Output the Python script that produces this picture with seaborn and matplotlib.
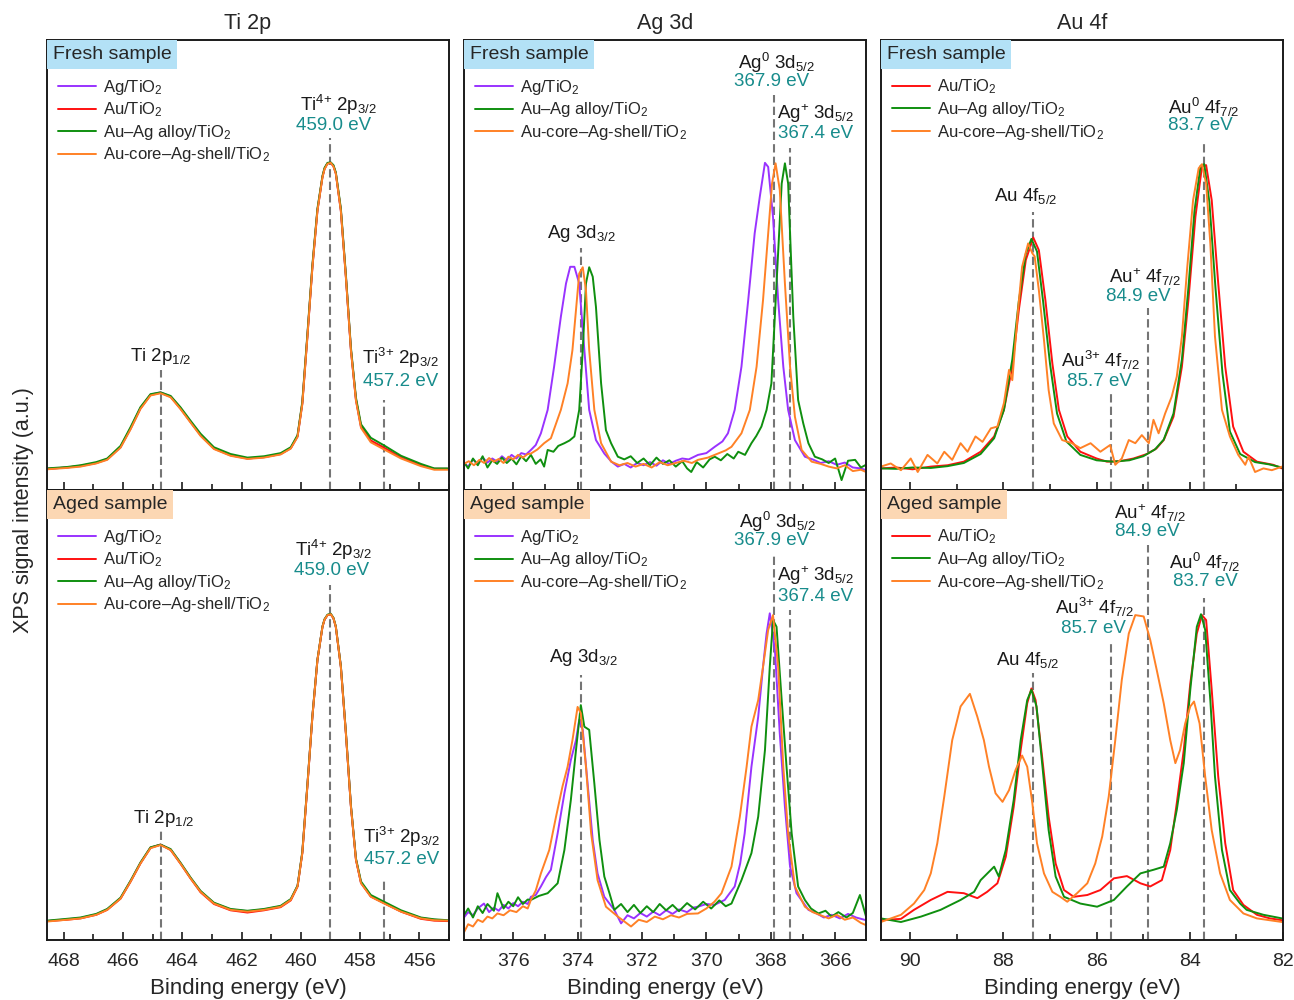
import numpy as np
import pandas as pd
import seaborn as sns
import matplotlib.pyplot as plt
from matplotlib.ticker import MultipleLocator

sns.set_theme(style='ticks')
plt.rcParams['font.family'] = ['Liberation Sans', 'DejaVu Sans']
plt.rcParams['mathtext.fontset'] = 'custom'
plt.rcParams['mathtext.rm'] = 'Liberation Sans'
plt.rcParams['mathtext.it'] = 'Liberation Sans:italic'
plt.rcParams['mathtext.bf'] = 'Liberation Sans:bold'

# ---- data (normalised intensity) ----
ti_energy = [468.56, 467.9, 467.43, 466.9, 466.53, 466.08, 465.74, 465.41, 465.07, 464.73,
             464.39, 464.06, 463.72, 463.38, 462.93, 462.37, 461.8, 461.24, 460.68, 460.34,
             460.11, 459.95, 459.78, 459.61, 459.44, 459.27, 459.2, 459.1, 458.99, 458.9, 458.82, 458.65,
             458.48, 458.31, 458.14, 457.97, 457.64, 457.19, 456.62, 455.95, 455.5, 455.05]

ti_fresh_ag = [0.047, 0.05, 0.053, 0.06, 0.068, 0.095, 0.137, 0.182, 0.212, 0.217, 0.208, 0.182, 0.152, 0.122,
               0.093, 0.078, 0.07, 0.073, 0.08, 0.093, 0.119, 0.192, 0.34, 0.495, 0.621, 0.696, 0.714, 0.726,
               0.727, 0.72, 0.704, 0.621, 0.474, 0.311, 0.2, 0.14, 0.109, 0.093, 0.072, 0.055, 0.047, 0.047]
ti_fresh_au = [0.047, 0.05, 0.054, 0.06, 0.069, 0.096, 0.137, 0.181, 0.211, 0.216, 0.207, 0.181, 0.151, 0.122,
               0.092, 0.077, 0.07, 0.073, 0.08, 0.093, 0.12, 0.193, 0.341, 0.496, 0.622, 0.696, 0.714, 0.726,
               0.727, 0.72, 0.704, 0.622, 0.474, 0.312, 0.201, 0.142, 0.11, 0.094, 0.072, 0.055, 0.047, 0.047]
ti_fresh_alloy = [0.048, 0.051, 0.055, 0.062, 0.07, 0.098, 0.14, 0.184, 0.213, 0.217, 0.209, 0.184, 0.154, 0.125,
                  0.095, 0.08, 0.072, 0.075, 0.082, 0.095, 0.122, 0.196, 0.345, 0.5, 0.625, 0.698, 0.716, 0.727,
                  0.728, 0.722, 0.706, 0.626, 0.478, 0.316, 0.205, 0.146, 0.116, 0.099, 0.076, 0.058, 0.048, 0.048]
ti_fresh_cs = [0.046, 0.049, 0.052, 0.059, 0.067, 0.094, 0.135, 0.18, 0.21, 0.215, 0.206, 0.18, 0.15, 0.12,
               0.091, 0.076, 0.069, 0.072, 0.079, 0.092, 0.118, 0.19, 0.338, 0.494, 0.62, 0.695, 0.713, 0.725,
               0.727, 0.719, 0.703, 0.62, 0.472, 0.31, 0.198, 0.138, 0.106, 0.09, 0.07, 0.053, 0.045, 0.045]

ti_aged_ag = [0.042, 0.046, 0.049, 0.057, 0.068, 0.093, 0.131, 0.171, 0.205, 0.212, 0.201, 0.171, 0.138, 0.108,
              0.082, 0.068, 0.064, 0.068, 0.075, 0.09, 0.12, 0.194, 0.342, 0.497, 0.622, 0.696, 0.712, 0.722,
              0.724, 0.715, 0.696, 0.608, 0.46, 0.297, 0.179, 0.127, 0.097, 0.082, 0.064, 0.049, 0.045, 0.043]
ti_aged_au = [0.042, 0.045, 0.048, 0.056, 0.067, 0.092, 0.13, 0.17, 0.205, 0.212, 0.2, 0.17, 0.137, 0.106,
              0.08, 0.066, 0.061, 0.066, 0.073, 0.088, 0.119, 0.193, 0.341, 0.496, 0.622, 0.696, 0.712, 0.722,
              0.724, 0.715, 0.696, 0.607, 0.459, 0.296, 0.178, 0.127, 0.097, 0.082, 0.063, 0.047, 0.043, 0.042]
ti_aged_alloy = [0.043, 0.047, 0.05, 0.058, 0.069, 0.094, 0.132, 0.172, 0.206, 0.212, 0.202, 0.172, 0.139, 0.109,
                 0.083, 0.069, 0.065, 0.069, 0.076, 0.091, 0.121, 0.196, 0.344, 0.498, 0.623, 0.697, 0.713, 0.723,
                 0.725, 0.716, 0.697, 0.609, 0.462, 0.299, 0.181, 0.13, 0.1, 0.085, 0.066, 0.05, 0.046, 0.044]
ti_aged_cs = [0.041, 0.045, 0.048, 0.056, 0.067, 0.092, 0.13, 0.17, 0.204, 0.211, 0.2, 0.17, 0.137, 0.107,
              0.081, 0.067, 0.063, 0.067, 0.074, 0.089, 0.119, 0.193, 0.341, 0.496, 0.622, 0.696, 0.712, 0.722,
              0.724, 0.715, 0.696, 0.607, 0.459, 0.296, 0.178, 0.126, 0.096, 0.081, 0.063, 0.048, 0.044, 0.043]

# Ag 3d, fresh: (energy, intensity)
ag_fresh_ag = [(377.53, 0.06), (377.4, 0.052), (377.25, 0.068), (377.1, 0.058), (376.95, 0.072), (376.8, 0.061),
               (376.65, 0.07), (376.5, 0.063), (376.35, 0.075), (376.2, 0.066), (376.05, 0.078), (375.9, 0.07),
               (375.75, 0.082), (375.6, 0.079), (375.45, 0.089), (375.3, 0.1), (375.14, 0.126), (374.93, 0.178),
               (374.73, 0.274), (374.52, 0.385), (374.36, 0.459), (374.23, 0.496), (374.1, 0.496), (373.95, 0.459),
               (373.79, 0.311), (373.64, 0.178), (373.43, 0.111), (373.17, 0.081), (372.95, 0.063), (372.75, 0.052),
               (372.55, 0.058), (372.35, 0.05), (372.15, 0.06), (371.95, 0.055), (371.75, 0.062), (371.55, 0.054),
               (371.35, 0.066), (371.15, 0.058), (370.95, 0.065), (370.75, 0.07), (370.55, 0.068), (370.26, 0.078),
               (370.0, 0.082), (369.74, 0.096), (369.5, 0.108), (369.33, 0.126), (369.12, 0.178), (368.91, 0.274),
               (368.7, 0.422), (368.5, 0.57), (368.34, 0.652), (368.18, 0.727), (368.08, 0.718), (367.93, 0.607),
               (367.77, 0.422), (367.61, 0.274), (367.46, 0.178), (367.25, 0.111), (366.94, 0.074), (366.7, 0.068),
               (366.45, 0.06), (366.2, 0.064), (365.95, 0.056), (365.7, 0.061), (365.45, 0.05), (365.2, 0.048),
               (365.04, 0.044)]
ag_fresh_alloy = [(377.53, 0.062), (377.4, 0.048), (377.25, 0.07), (377.1, 0.055), (376.95, 0.075), (376.8, 0.05),
                  (376.65, 0.066), (376.5, 0.058), (376.35, 0.072), (376.2, 0.06), (376.05, 0.07), (375.9, 0.057),
                  (375.75, 0.075), (375.6, 0.064), (375.45, 0.078), (375.3, 0.058), (375.15, 0.068), (375.04, 0.052),
                  (374.93, 0.089), (374.75, 0.085), (374.6, 0.098), (374.41, 0.104), (374.25, 0.11), (374.1, 0.119),
                  (373.95, 0.178), (373.84, 0.311), (373.74, 0.459), (373.64, 0.495), (373.53, 0.474), (373.43, 0.407),
                  (373.27, 0.237), (373.12, 0.133), (372.96, 0.104), (372.75, 0.074), (372.55, 0.068), (372.35, 0.075),
                  (372.15, 0.06), (371.95, 0.07), (371.75, 0.055), (371.55, 0.072), (371.35, 0.058), (371.15, 0.066),
                  (370.95, 0.052), (370.75, 0.064), (370.6, 0.048), (370.47, 0.04), (370.3, 0.062), (370.1, 0.05),
                  (369.9, 0.068), (369.74, 0.074), (369.55, 0.066), (369.35, 0.08), (369.15, 0.07), (369.01, 0.085),
                  (368.8, 0.078), (368.6, 0.104), (368.45, 0.12), (368.29, 0.141), (368.13, 0.178), (367.98, 0.237),
                  (367.82, 0.459), (367.66, 0.681), (367.56, 0.726), (367.46, 0.681), (367.3, 0.385), (367.15, 0.2),
                  (366.99, 0.148), (366.83, 0.104), (366.63, 0.074), (366.4, 0.068), (366.2, 0.06), (366.0, 0.07),
                  (365.8, 0.022), (365.6, 0.065), (365.38, 0.067), (365.2, 0.05), (365.04, 0.056)]
ag_fresh_cs = [(377.53, 0.058), (377.38, 0.064), (377.22, 0.055), (377.05, 0.067), (376.9, 0.06), (376.75, 0.071),
               (376.6, 0.063), (376.45, 0.069), (376.3, 0.06), (376.15, 0.074), (376.0, 0.068), (375.85, 0.078),
               (375.7, 0.072), (375.55, 0.08), (375.45, 0.081), (375.25, 0.09), (375.04, 0.104), (374.83, 0.115),
               (374.52, 0.178), (374.31, 0.237), (374.16, 0.311), (374.05, 0.4), (373.95, 0.481), (373.84, 0.495),
               (373.74, 0.444), (373.64, 0.311), (373.48, 0.178), (373.27, 0.104), (372.96, 0.063), (372.7, 0.055),
               (372.45, 0.06), (372.2, 0.052), (371.95, 0.058), (371.7, 0.05), (371.45, 0.062), (371.2, 0.055),
               (370.95, 0.06), (370.7, 0.065), (370.45, 0.06), (370.26, 0.067), (369.95, 0.072), (369.64, 0.081),
               (369.4, 0.088), (369.22, 0.096), (368.91, 0.126), (368.65, 0.178), (368.44, 0.274), (368.24, 0.422),
               (368.08, 0.57), (367.96, 0.681), (367.85, 0.726), (367.72, 0.667), (367.56, 0.459), (367.4, 0.274),
               (367.25, 0.163), (367.04, 0.089), (366.73, 0.063), (366.45, 0.058), (366.2, 0.052), (365.95, 0.048),
               (365.7, 0.055), (365.45, 0.042), (365.2, 0.045), (365.04, 0.04)]

# Ag 3d, aged
ag_aged_ag = [(377.53, 0.05), (377.4, 0.062), (377.25, 0.055), (377.1, 0.07), (376.91, 0.081), (376.75, 0.062),
              (376.6, 0.072), (376.45, 0.065), (376.3, 0.078), (376.15, 0.07), (376.0, 0.082), (375.85, 0.075),
              (375.7, 0.085), (375.55, 0.08), (375.45, 0.096), (375.3, 0.1), (375.14, 0.119), (374.98, 0.14),
              (374.83, 0.156), (374.62, 0.237), (374.41, 0.326), (374.21, 0.4), (374.05, 0.444), (373.95, 0.489),
              (373.84, 0.467), (373.69, 0.348), (373.53, 0.222), (373.38, 0.148), (373.17, 0.096), (372.86, 0.067),
              (372.65, 0.037), (372.45, 0.055), (372.25, 0.048), (372.05, 0.06), (371.85, 0.052), (371.65, 0.063),
              (371.45, 0.055), (371.25, 0.066), (371.05, 0.058), (370.85, 0.068), (370.6, 0.062), (370.4, 0.072),
              (370.26, 0.074), (370.0, 0.08), (369.75, 0.078), (369.43, 0.089), (369.12, 0.119), (368.95, 0.17),
              (368.81, 0.237), (368.6, 0.385), (368.39, 0.496), (368.24, 0.607), (368.13, 0.681), (368.03, 0.726),
              (367.87, 0.644), (367.72, 0.459), (367.56, 0.296), (367.4, 0.163), (367.2, 0.104), (366.83, 0.067),
              (366.6, 0.06), (366.35, 0.05), (366.11, 0.056), (365.85, 0.048), (365.6, 0.058), (365.35, 0.05),
              (365.04, 0.044)]
ag_aged_alloy = [(377.53, 0.055), (377.4, 0.07), (377.25, 0.05), (377.1, 0.075), (376.95, 0.06), (376.8, 0.08),
                 (376.6, 0.065), (376.49, 0.104), (376.3, 0.07), (376.15, 0.085), (376.0, 0.075), (375.85, 0.095),
                 (375.7, 0.08), (375.55, 0.09), (375.45, 0.089), (375.2, 0.098), (374.93, 0.104), (374.62, 0.126),
                 (374.41, 0.2), (374.21, 0.311), (374.05, 0.422), (373.9, 0.522), (373.79, 0.474), (373.64, 0.467),
                 (373.48, 0.348), (373.32, 0.222), (373.17, 0.141), (373.01, 0.104), (372.86, 0.067), (372.65, 0.08),
                 (372.45, 0.062), (372.25, 0.078), (372.05, 0.06), (371.85, 0.075), (371.65, 0.062), (371.45, 0.08),
                 (371.25, 0.066), (371.05, 0.078), (370.85, 0.064), (370.6, 0.082), (370.35, 0.068), (370.1, 0.085),
                 (369.85, 0.07), (369.6, 0.088), (369.4, 0.075), (369.22, 0.081), (368.91, 0.133), (368.6, 0.193),
                 (368.39, 0.274), (368.18, 0.422), (368.03, 0.607), (367.93, 0.711), (367.82, 0.696), (367.66, 0.533),
                 (367.51, 0.385), (367.35, 0.237), (367.15, 0.119), (366.94, 0.089), (366.75, 0.07), (366.52, 0.059),
                 (366.3, 0.065), (366.11, 0.052), (365.9, 0.062), (365.65, 0.05), (365.45, 0.06), (365.23, 0.1),
                 (365.04, 0.052)]
ag_aged_cs = [(377.53, 0.017), (377.4, 0.035), (377.25, 0.03), (377.1, 0.045), (376.95, 0.04), (376.8, 0.052),
              (376.65, 0.048), (376.49, 0.059), (376.3, 0.055), (376.1, 0.066), (375.9, 0.062), (375.7, 0.075),
              (375.55, 0.07), (375.45, 0.089), (375.3, 0.11), (375.14, 0.148), (374.88, 0.2), (374.67, 0.274),
              (374.47, 0.341), (374.31, 0.385), (374.16, 0.444), (374.0, 0.518), (373.9, 0.504), (373.74, 0.385),
              (373.58, 0.237), (373.38, 0.133), (373.12, 0.074), (372.75, 0.052), (372.34, 0.03), (372.1, 0.045),
              (371.85, 0.04), (371.6, 0.052), (371.35, 0.046), (371.1, 0.055), (370.85, 0.05), (370.6, 0.058),
              (370.26, 0.059), (370.0, 0.07), (369.75, 0.085), (369.53, 0.104), (369.22, 0.163), (368.96, 0.274),
              (368.75, 0.385), (368.6, 0.474), (368.39, 0.533), (368.24, 0.607), (368.08, 0.689), (367.93, 0.722),
              (367.77, 0.607), (367.61, 0.385), (367.46, 0.237), (367.25, 0.119), (366.94, 0.074), (366.7, 0.062),
              (366.45, 0.055), (366.2, 0.048), (365.95, 0.056), (365.7, 0.045), (365.45, 0.05), (365.2, 0.038),
              (365.04, 0.033)]

# Au 4f, fresh
au_fresh_au = [(90.63, 0.048), (90.3, 0.05), (89.95, 0.046), (89.56, 0.052), (89.2, 0.055), (88.85, 0.063),
               (88.49, 0.085), (88.2, 0.119), (87.99, 0.178), (87.81, 0.274), (87.67, 0.4), (87.52, 0.511),
               (87.36, 0.561), (87.24, 0.533), (87.1, 0.422), (86.95, 0.281), (86.81, 0.178), (86.63, 0.119),
               (86.35, 0.085), (86.0, 0.07), (85.78, 0.063), (85.5, 0.064), (85.21, 0.07), (84.92, 0.08),
               (84.72, 0.092), (84.56, 0.111), (84.35, 0.163), (84.17, 0.274), (84.03, 0.422), (83.88, 0.607),
               (83.74, 0.718), (83.65, 0.722), (83.53, 0.644), (83.39, 0.459), (83.24, 0.274), (83.07, 0.141),
               (82.85, 0.085), (82.56, 0.063), (82.21, 0.056), (82.02, 0.048)]
au_fresh_alloy = [(90.63, 0.048), (90.3, 0.047), (89.95, 0.05), (89.56, 0.049), (89.2, 0.053), (88.85, 0.06),
                  (88.49, 0.08), (88.2, 0.115), (87.99, 0.178), (87.81, 0.29), (87.67, 0.42), (87.52, 0.525),
                  (87.4, 0.558), (87.28, 0.53), (87.15, 0.42), (87.0, 0.28), (86.85, 0.17), (86.65, 0.108),
                  (86.35, 0.078), (86.0, 0.066), (85.65, 0.063), (85.3, 0.066), (85.0, 0.075), (84.75, 0.09),
                  (84.56, 0.112), (84.35, 0.17), (84.17, 0.29), (84.03, 0.45), (83.9, 0.62), (83.77, 0.72),
                  (83.69, 0.724), (83.58, 0.64), (83.45, 0.45), (83.3, 0.26), (83.14, 0.13), (82.92, 0.08),
                  (82.6, 0.062), (82.3, 0.057), (82.02, 0.05)]
au_fresh_cs = [(90.63, 0.052), (90.42, 0.059), (90.2, 0.044), (89.99, 0.07), (89.84, 0.04), (89.63, 0.078),
               (89.42, 0.059), (89.27, 0.085), (89.1, 0.067), (88.92, 0.104), (88.77, 0.085), (88.6, 0.119),
               (88.45, 0.107), (88.27, 0.137), (88.13, 0.141), (87.99, 0.193), (87.88, 0.267), (87.81, 0.244),
               (87.7, 0.385), (87.6, 0.496), (87.47, 0.548), (87.38, 0.526), (87.33, 0.519), (87.24, 0.444),
               (87.13, 0.333), (87.03, 0.222), (86.92, 0.148), (86.74, 0.111), (86.53, 0.104), (86.35, 0.093),
               (86.13, 0.104), (85.92, 0.085), (85.71, 0.1), (85.6, 0.056), (85.46, 0.07), (85.31, 0.111),
               (85.17, 0.104), (85.03, 0.122), (84.88, 0.104), (84.78, 0.156), (84.67, 0.126), (84.53, 0.17),
               (84.39, 0.207), (84.28, 0.252), (84.17, 0.341), (84.06, 0.489), (83.93, 0.644), (83.81, 0.715),
               (83.74, 0.724), (83.65, 0.681), (83.56, 0.548), (83.46, 0.341), (83.31, 0.178), (83.14, 0.119),
               (82.96, 0.078), (82.81, 0.056), (82.74, 0.074), (82.6, 0.04), (82.42, 0.048), (82.24, 0.044),
               (82.02, 0.052)]

# Au 4f, aged
au_aged_au = [(90.63, 0.044), (90.2, 0.047), (89.92, 0.067), (89.56, 0.089), (89.2, 0.107), (88.85, 0.104),
              (88.56, 0.093), (88.35, 0.107), (88.13, 0.126), (87.95, 0.185), (87.78, 0.296), (87.63, 0.422),
              (87.49, 0.526), (87.4, 0.559), (87.31, 0.533), (87.17, 0.407), (87.03, 0.274), (86.88, 0.17),
              (86.7, 0.111), (86.49, 0.096), (86.2, 0.1), (85.92, 0.111), (85.63, 0.137), (85.35, 0.142),
              (85.06, 0.126), (84.85, 0.119), (84.6, 0.133), (84.42, 0.2), (84.28, 0.304), (84.13, 0.422),
              (83.99, 0.57), (83.85, 0.681), (83.74, 0.722), (83.65, 0.711), (83.53, 0.556), (83.39, 0.363),
              (83.24, 0.215), (83.07, 0.111), (82.85, 0.078), (82.56, 0.056), (82.28, 0.048), (82.02, 0.044)]
au_aged_alloy = [(90.63, 0.048), (90.2, 0.04), (89.77, 0.052), (89.35, 0.067), (88.92, 0.089), (88.63, 0.107),
                 (88.49, 0.133), (88.2, 0.163), (88.1, 0.141), (87.95, 0.2), (87.78, 0.311), (87.63, 0.444),
                 (87.49, 0.533), (87.4, 0.556), (87.29, 0.519), (87.17, 0.393), (87.03, 0.244), (86.88, 0.141),
                 (86.7, 0.096), (86.35, 0.081), (85.99, 0.074), (85.63, 0.089), (85.35, 0.119), (85.06, 0.148),
                 (84.78, 0.156), (84.56, 0.163), (84.42, 0.215), (84.28, 0.289), (84.13, 0.393), (83.99, 0.556),
                 (83.85, 0.696), (83.76, 0.724), (83.67, 0.689), (83.56, 0.533), (83.46, 0.363), (83.31, 0.2),
                 (83.14, 0.111), (82.92, 0.081), (82.78, 0.067), (82.42, 0.056), (82.02, 0.048)]
au_aged_cs = [(90.63, 0.04), (90.2, 0.056), (89.92, 0.081), (89.7, 0.111), (89.56, 0.148), (89.42, 0.215),
              (89.27, 0.319), (89.1, 0.444), (88.92, 0.519), (88.72, 0.547), (88.56, 0.496), (88.42, 0.444),
              (88.31, 0.385), (88.17, 0.326), (88.02, 0.307), (87.88, 0.333), (87.74, 0.378), (87.6, 0.41),
              (87.49, 0.385), (87.38, 0.304), (87.28, 0.215), (87.13, 0.148), (86.95, 0.107), (86.78, 0.096),
              (86.63, 0.085), (86.42, 0.104), (86.2, 0.126), (86.03, 0.17), (85.88, 0.23), (85.74, 0.319),
              (85.6, 0.444), (85.46, 0.578), (85.31, 0.681), (85.17, 0.722), (84.99, 0.719), (84.85, 0.667),
              (84.71, 0.6), (84.56, 0.526), (84.42, 0.444), (84.31, 0.393), (84.21, 0.422), (84.1, 0.481),
              (83.99, 0.519), (83.91, 0.53), (83.79, 0.481), (83.67, 0.363), (83.53, 0.244), (83.35, 0.148),
              (83.14, 0.089), (82.85, 0.059), (82.56, 0.048), (82.02, 0.04)]

# ---- labels and reference lines ----
col_titles = ['Ti 2p', 'Ag 3d', 'Au 4f']
row_titles = ['Fresh sample', 'Aged sample']
row_colors = ['#b3e1f6', '#fcd7b3']
x_limits = [(468.56, 455.0), (377.53, 365.04), (90.63, 82.0)]

name_ag = 'Ag/TiO$_2$'
name_au = 'Au/TiO$_2$'
name_alloy = 'Au\u2013Ag alloy/TiO$_2$'
name_cs = 'Au-core\u2013Ag-shell/TiO$_2$'

c_ag = '#9933ff'
c_au = '#ff1010'
c_alloy = '#0f8f0f'
c_cs = '#ff8126'
teal = '#188c8c'
dash_grey = '#757575'

ti_lines = [[(464.7, 0.267), (459.0, 0.782), (457.2, 0.2)],
            [(464.7, 0.249), (459.0, 0.789), (457.2, 0.138)]]
ag_lines = [[(373.9, 0.538), (367.9, 0.878), (367.4, 0.76)],
            [(373.9, 0.589), (367.9, 0.856), (367.4, 0.733)]]
au_lines = [[(87.37, 0.618), (85.7, 0.216), (84.9, 0.404), (83.7, 0.778)],
            [(87.37, 0.593), (85.7, 0.667), (84.9, 0.878), (83.7, 0.76)]]

ti_text = [[(458.73, 0.856, 'Ti$^{4{+}}$ 2p$_{3/2}$', 'k'), (458.9, 0.811, '459.0 eV', teal),
            (464.71, 0.296, 'Ti 2p$_{1/2}$', 'k'),
            (456.63, 0.293, 'Ti$^{3{+}}$ 2p$_{3/2}$', 'k'), (456.63, 0.242, '457.2 eV', teal)],
           [(458.9, 0.867, 'Ti$^{4{+}}$ 2p$_{3/2}$', 'k'), (458.97, 0.822, '459.0 eV', teal),
            (464.64, 0.271, 'Ti 2p$_{1/2}$', 'k'),
            (456.6, 0.229, 'Ti$^{3{+}}$ 2p$_{3/2}$', 'k'), (456.6, 0.178, '457.2 eV', teal)]]
ag_text = [[(367.84, 0.949, 'Ag$^0$ 3d$_{5/2}$', 'k'), (367.97, 0.907, '367.9 eV', teal),
            (366.6, 0.836, 'Ag$^{{+}}$ 3d$_{5/2}$', 'k'), (366.6, 0.793, '367.4 eV', teal),
            (373.89, 0.571, 'Ag 3d$_{3/2}$', 'k')],
           [(367.81, 0.929, 'Ag$^0$ 3d$_{5/2}$', 'k'), (367.97, 0.887, '367.9 eV', teal),
            (366.6, 0.809, 'Ag$^{{+}}$ 3d$_{5/2}$', 'k'), (366.6, 0.764, '367.4 eV', teal),
            (373.82, 0.627, 'Ag 3d$_{3/2}$', 'k')]]
au_text = [[(83.71, 0.851, 'Au$^0$ 4f$_{7/2}$', 'k'), (83.78, 0.809, '83.7 eV', teal),
            (87.53, 0.653, 'Au 4f$_{5/2}$', 'k'),
            (84.96, 0.473, 'Au$^{{+}}$ 4f$_{7/2}$', 'k'), (85.11, 0.431, '84.9 eV', teal),
            (85.92, 0.287, 'Au$^{3{+}}$ 4f$_{7/2}$', 'k'), (85.94, 0.242, '85.7 eV', teal)],
           [(84.85, 0.949, 'Au$^{{+}}$ 4f$_{7/2}$', 'k'), (84.91, 0.907, '84.9 eV', teal),
            (83.67, 0.84, 'Au$^0$ 4f$_{7/2}$', 'k'), (83.67, 0.796, '83.7 eV', teal),
            (86.05, 0.74, 'Au$^{3{+}}$ 4f$_{7/2}$', 'k'), (86.07, 0.693, '85.7 eV', teal),
            (87.48, 0.622, 'Au 4f$_{5/2}$', 'k')]]


def pairs_frame(pairs):
    return pd.DataFrame(pairs, columns=['energy', 'intensity'])


def draw(ax, df, color, label):
    sns.lineplot(data=df, x='energy', y='intensity', color=color, lw=1.4,
                 label=label, ax=ax, sort=False, estimator=None)


fig, axes = plt.subplots(2, 3, figsize=(12.94, 10), dpi=100, sharex='col')
fig.patch.set_facecolor('white')
fig.subplots_adjust(left=47 / 1294, right=1283 / 1294, top=1 - 40 / 1000,
                    bottom=1 - 940 / 1000, wspace=0.037, hspace=0)

ti_rows = [[ti_fresh_ag, ti_fresh_au, ti_fresh_alloy, ti_fresh_cs],
           [ti_aged_ag, ti_aged_au, ti_aged_alloy, ti_aged_cs]]
ag_rows = [[ag_fresh_ag, ag_fresh_alloy, ag_fresh_cs],
           [ag_aged_ag, ag_aged_alloy, ag_aged_cs]]
au_rows = [[au_fresh_au, au_fresh_alloy, au_fresh_cs],
           [au_aged_au, au_aged_alloy, au_aged_cs]]

for r in range(2):
    ax = axes[r, 0]
    for vals, c, n in zip(ti_rows[r], [c_ag, c_au, c_alloy, c_cs], [name_ag, name_au, name_alloy, name_cs]):
        draw(ax, pd.DataFrame({'energy': ti_energy, 'intensity': vals}), c, n)
    ax = axes[r, 1]
    for pairs, c, n in zip(ag_rows[r], [c_ag, c_alloy, c_cs], [name_ag, name_alloy, name_cs]):
        draw(ax, pairs_frame(pairs), c, n)
    ax = axes[r, 2]
    for pairs, c, n in zip(au_rows[r], [c_au, c_alloy, c_cs], [name_au, name_alloy, name_cs]):
        draw(ax, pairs_frame(pairs), c, n)

    for col, (lines, texts) in enumerate([(ti_lines[r], ti_text[r]), (ag_lines[r], ag_text[r]),
                                          (au_lines[r], au_text[r])]):
        ax = axes[r, col]
        for x, top in lines:
            ax.axvline(x, ymin=0, ymax=top, color=dash_grey, lw=1.5, dashes=(4, 2), zorder=1)
        for x, y, t, c in texts:
            ax.text(x, y, t, color=c, fontsize=13.5, ha='center', va='center')
        ax.text(0.0145, 0.986, row_titles[r], transform=ax.transAxes, fontsize=14, ha='left', va='top',
                bbox=dict(boxstyle='square,pad=0.3', fc=row_colors[r], ec='none'), zorder=5)
        ax.legend(loc='upper left', bbox_to_anchor=(0.027, 0.916), frameon=False, fontsize=12,
                  handlelength=2.3, handletextpad=0.4, labelspacing=0.22, borderpad=0, borderaxespad=0)

for col in range(3):
    for r in range(2):
        ax = axes[r, col]
        ax.set_xlim(*x_limits[col])
        ax.set_ylim(0, 1)
        ax.set_yticks([])
        ax.set_ylabel('')
        ax.set_xlabel('')
        ax.xaxis.set_major_locator(MultipleLocator(2))
        ax.xaxis.set_minor_locator(MultipleLocator(1))
        ax.tick_params(axis='x', which='both', direction='in', top=False, bottom=True,
                       labelsize=14, width=1.2, color='k', pad=9)
        ax.tick_params(axis='x', which='major', length=6)
        ax.tick_params(axis='x', which='minor', length=4)
        for s in ax.spines.values():
            s.set_visible(True)
            s.set_linewidth(1.4)
            s.set_color('k')
    axes[0, col].set_title(col_titles[col], fontsize=15.5, pad=8)
    axes[1, col].set_xlabel('Binding energy (eV)', fontsize=16, labelpad=6)

fig.text(0.018, 0.49, 'XPS signal intensity (a.u.)', rotation=90, fontsize=15.5, ha='center', va='center')

fig.savefig('out.png', dpi=100, facecolor='white')
